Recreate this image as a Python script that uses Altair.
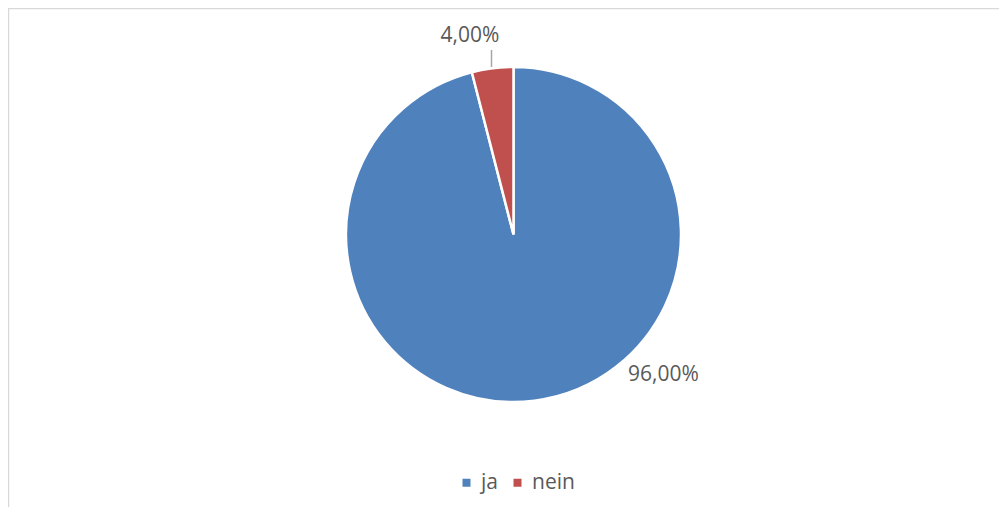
import altair as alt
import pandas as pd

categories = ["ja", "nein"]
values = [96.0, 4.0]
labels = ["96,00%", "4,00%"]
colors = ["#4F81BD", "#C0504D"]

df = pd.DataFrame({"cat": categories, "val": values, "label": labels,
                   "order": [0, 1]})

CX, CY = 505.5, 226.5
R = 167.5
TXT = "#595959"
FONT = "Open Sans"

base = alt.Chart(df)

pie = base.mark_arc(stroke="white", strokeWidth=2.5, radius=R).encode(
    theta=alt.Theta("val:Q", stack=True),
    order=alt.Order("order:Q"),
    color=alt.Color("cat:N", scale=alt.Scale(domain=categories, range=colors),
                    legend=alt.Legend(title=None, orient="none", direction="horizontal",
                                      legendX=448, legendY=464,
                                      symbolType="square", symbolSize=64,
                                      symbolStrokeWidth=0,
                                      labelFont=FONT, labelFontSize=21,
                                      labelColor=TXT, columnPadding=9,
                                      symbolOffset=0, labelOffset=4)),
    x=alt.value(CX), y=alt.value(CY),
)

def label_layer(cat, theta, radius):
    return base.transform_filter(alt.datum.cat == cat).mark_text(
        font=FONT, fontSize=21, color=TXT, align="center", baseline="middle"
    ).encode(
        text="label:N",
        theta=alt.value(theta), radius=alt.value(radius),
        x=alt.value(CX), y=alt.value(CY),
    )

lab_ja = label_layer("ja", 2.3236, 205.5)
lab_nein = label_layer("nein", 6.0675, 203.2)

leader = base.transform_filter(alt.datum.cat == "nein").mark_rule(
    color="#A6A6A6", strokeWidth=1.5
).encode(x=alt.value(483.5), y=alt.value(42), y2=alt.value(59))

border_top = base.transform_filter(alt.datum.cat == "ja").mark_rule(
    color="#D9D9D9", strokeWidth=1.5
).encode(x=alt.value(0), x2=alt.value(991), y=alt.value(0.5))
border_left = base.transform_filter(alt.datum.cat == "ja").mark_rule(
    color="#D9D9D9", strokeWidth=1.5
).encode(x=alt.value(0.5), y=alt.value(0), y2=alt.value(499))

chart = alt.layer(border_top, border_left, pie, leader, lab_ja, lab_nein).properties(
    width=991, height=499, padding=0,
    autosize=alt.AutoSizeParams(type="none"),
    background="white",
).configure_view(stroke=None)

chart.save("out.html", embed_options={"renderer": "svg", "actions": False})
